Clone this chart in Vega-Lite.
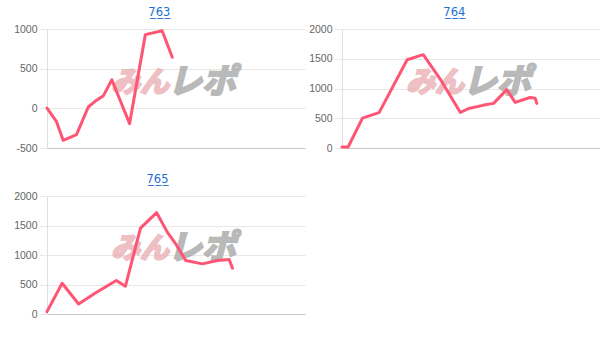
{
  "$schema": "https://vega.github.io/schema/vega-lite/v6.json",
  "background": "white",
  "padding": {"left": 10, "top": 6, "right": 0, "bottom": 0},
  "config": {
    "view": {"stroke": null},
    "font": "Liberation Sans",
    "title": {"font": "DejaVu Sans", "fontSize": 11.5, "fontWeight": "normal", "color": "#1a6fd0", "offset": 6, "anchor": "middle", "frame": "bounds"},
    "axisY": {"grid": true, "gridColor": "#e8e8e8", "domainColor": "#e0e0e0", "tickColor": "#e8e8e8", "tickSize": 8, "labelPadding": 2, "labelColor": "#666666", "labelFontSize": 10.5, "labelFont": "Liberation Sans", "labelOverlap": false, "labelFlush": false, "labelExpr": "'' + datum.value", "title": null},
    "axisX": {"labels": false, "ticks": false, "grid": false, "domainColor": "#c8c8c8", "title": null}
  },
  "datasets": {
    "slump": [
      {"machine": "763", "g": 0, "diff": 4},
      {"machine": "763", "g": 290, "diff": -164},
      {"machine": "763", "g": 500, "diff": -403},
      {"machine": "763", "g": 915, "diff": -332},
      {"machine": "763", "g": 1280, "diff": 17},
      {"machine": "763", "g": 1490, "diff": 88},
      {"machine": "763", "g": 1750, "diff": 160},
      {"machine": "763", "g": 2010, "diff": 361},
      {"machine": "763", "g": 2560, "diff": -193},
      {"machine": "763", "g": 3050, "diff": 929},
      {"machine": "763", "g": 3570, "diff": 979},
      {"machine": "763", "g": 3885, "diff": 643},
      {"machine": "764", "g": 0, "diff": 17},
      {"machine": "764", "g": 190, "diff": 17},
      {"machine": "764", "g": 635, "diff": 502},
      {"machine": "764", "g": 890, "diff": 548},
      {"machine": "764", "g": 1150, "diff": 594},
      {"machine": "764", "g": 2020, "diff": 1483},
      {"machine": "764", "g": 2520, "diff": 1569},
      {"machine": "764", "g": 3050, "diff": 1154},
      {"machine": "764", "g": 3670, "diff": 597},
      {"machine": "764", "g": 3930, "diff": 664},
      {"machine": "764", "g": 4400, "diff": 721},
      {"machine": "764", "g": 4700, "diff": 750},
      {"machine": "764", "g": 5110, "diff": 981},
      {"machine": "764", "g": 5370, "diff": 767},
      {"machine": "764", "g": 5830, "diff": 848},
      {"machine": "764", "g": 5990, "diff": 837},
      {"machine": "764", "g": 6040, "diff": 750},
      {"machine": "765", "g": 0, "diff": 40},
      {"machine": "765", "g": 470, "diff": 521},
      {"machine": "765", "g": 980, "diff": 170},
      {"machine": "765", "g": 1500, "diff": 357},
      {"machine": "765", "g": 2150, "diff": 567},
      {"machine": "765", "g": 2430, "diff": 470},
      {"machine": "765", "g": 2900, "diff": 1456},
      {"machine": "765", "g": 3400, "diff": 1717},
      {"machine": "765", "g": 3730, "diff": 1388},
      {"machine": "765", "g": 3990, "diff": 1190},
      {"machine": "765", "g": 4300, "diff": 907},
      {"machine": "765", "g": 4820, "diff": 850},
      {"machine": "765", "g": 5280, "diff": 907},
      {"machine": "765", "g": 5650, "diff": 924},
      {"machine": "765", "g": 5750, "diff": 776}
    ]
  },
  "spacing": 19,
  "vconcat": [
    {
      "spacing": 3,
      "hconcat": [
        {
          "title": "7̲6̲3̲",
          "width": 258,
          "height": 119,
          "layer": [
            {
              "data": {"values": [{"t": "みん"}]},
              "mark": {"type": "text", "font": "Noto Sans CJK JP", "fontSize": 29, "fontWeight": "bold", "fontStyle": "italic", "color": "#eab0b5", "stroke": "#eab0b5", "strokeWidth": 2.2, "opacity": 0.8, "align": "right", "baseline": "middle", "dx": -7},
              "encoding": {"text": {"field": "t"}, "x": {"datum": 4000, "type": "quantitative"}, "y": {"datum": 320, "type": "quantitative", "axis": {"values": [-500, 0, 500, 1000]}}}
            },
            {
              "data": {"values": [{"t": "レポ"}]},
              "mark": {"type": "text", "font": "Noto Sans CJK JP", "fontSize": 34, "fontWeight": "bold", "fontStyle": "italic", "color": "#adadad", "stroke": "#adadad", "strokeWidth": 2.2, "opacity": 0.85, "align": "left", "baseline": "middle", "dx": -8},
              "encoding": {"text": {"field": "t"}, "x": {"datum": 4000, "type": "quantitative"}, "y": {"datum": 320, "type": "quantitative", "axis": {"values": [-500, 0, 500, 1000]}}}
            },
            {
              "data": {"name": "slump"},
              "transform": [{"filter": "datum.machine === '763'"}],
              "mark": {"type": "line", "color": "#ff5575", "strokeWidth": 3, "strokeCap": "round", "strokeJoin": "round"},
              "encoding": {
                "x": {"field": "g", "type": "quantitative", "scale": {"domain": [0, 8000], "nice": false}},
                "y": {"field": "diff", "type": "quantitative", "scale": {"domain": [-500, 1000], "nice": false, "zero": false}, "axis": {"values": [-500, 0, 500, 1000]}}
              }
            }
          ]
        },
        {
          "title": "7̲6̲4̲",
          "width": 258,
          "height": 119,
          "layer": [
            {
              "data": {"values": [{"t": "みん"}]},
              "mark": {"type": "text", "font": "Noto Sans CJK JP", "fontSize": 29, "fontWeight": "bold", "fontStyle": "italic", "color": "#eab0b5", "stroke": "#eab0b5", "strokeWidth": 2.2, "opacity": 0.8, "align": "right", "baseline": "middle", "dx": -7},
              "encoding": {"text": {"field": "t"}, "x": {"datum": 4000, "type": "quantitative"}, "y": {"datum": 1100, "type": "quantitative", "axis": {"values": [0, 500, 1000, 1500, 2000]}}}
            },
            {
              "data": {"values": [{"t": "レポ"}]},
              "mark": {"type": "text", "font": "Noto Sans CJK JP", "fontSize": 34, "fontWeight": "bold", "fontStyle": "italic", "color": "#adadad", "stroke": "#adadad", "strokeWidth": 2.2, "opacity": 0.85, "align": "left", "baseline": "middle", "dx": -8},
              "encoding": {"text": {"field": "t"}, "x": {"datum": 4000, "type": "quantitative"}, "y": {"datum": 1100, "type": "quantitative", "axis": {"values": [0, 500, 1000, 1500, 2000]}}}
            },
            {
              "data": {"name": "slump"},
              "transform": [{"filter": "datum.machine === '764'"}],
              "mark": {"type": "line", "color": "#ff5575", "strokeWidth": 3, "strokeCap": "round", "strokeJoin": "round"},
              "encoding": {
                "x": {"field": "g", "type": "quantitative", "scale": {"domain": [0, 8000], "nice": false}},
                "y": {"field": "diff", "type": "quantitative", "scale": {"domain": [0, 2000], "nice": false}, "axis": {"values": [0, 500, 1000, 1500, 2000]}}
              }
            }
          ]
        }
      ]
    },
    {
      "hconcat": [
        {
          "title": "7̲6̲5̲",
          "width": 258,
          "height": 118,
          "layer": [
            {
              "data": {"values": [{"t": "みん"}]},
              "mark": {"type": "text", "font": "Noto Sans CJK JP", "fontSize": 29, "fontWeight": "bold", "fontStyle": "italic", "color": "#eab0b5", "stroke": "#eab0b5", "strokeWidth": 2.2, "opacity": 0.8, "align": "right", "baseline": "middle", "dx": -7},
              "encoding": {"text": {"field": "t"}, "x": {"datum": 4000, "type": "quantitative"}, "y": {"datum": 1110, "type": "quantitative", "axis": {"values": [0, 500, 1000, 1500, 2000], "minExtent": 37}}}
            },
            {
              "data": {"values": [{"t": "レポ"}]},
              "mark": {"type": "text", "font": "Noto Sans CJK JP", "fontSize": 34, "fontWeight": "bold", "fontStyle": "italic", "color": "#adadad", "stroke": "#adadad", "strokeWidth": 2.2, "opacity": 0.85, "align": "left", "baseline": "middle", "dx": -8},
              "encoding": {"text": {"field": "t"}, "x": {"datum": 4000, "type": "quantitative"}, "y": {"datum": 1110, "type": "quantitative", "axis": {"values": [0, 500, 1000, 1500, 2000], "minExtent": 37}}}
            },
            {
              "data": {"name": "slump"},
              "transform": [{"filter": "datum.machine === '765'"}],
              "mark": {"type": "line", "color": "#ff5575", "strokeWidth": 3, "strokeCap": "round", "strokeJoin": "round"},
              "encoding": {
                "x": {"field": "g", "type": "quantitative", "scale": {"domain": [0, 8000], "nice": false}},
                "y": {"field": "diff", "type": "quantitative", "scale": {"domain": [0, 2000], "nice": false}, "axis": {"values": [0, 500, 1000, 1500, 2000], "minExtent": 37}}
              }
            }
          ]
        }
      ]
    }
  ]
}
